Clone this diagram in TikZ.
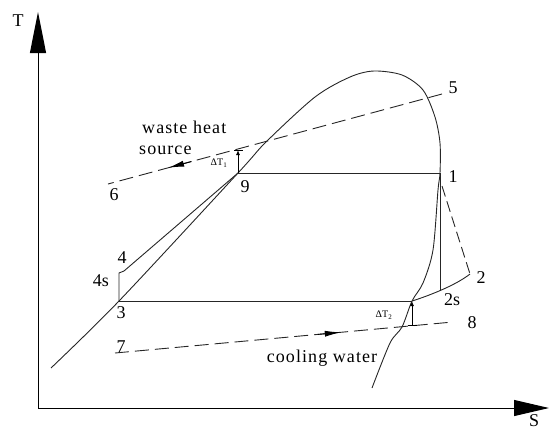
\documentclass[tikz,border=0pt]{standalone}
\usepackage{fontspec}
\setmainfont{Liberation Serif}
\usetikzlibrary{arrows.meta,calc}
\begin{document}
\begin{tikzpicture}[x=1pt,y=-1pt,
  curve/.style={line width=0.9pt, black!85},
  dashline/.style={line width=0.9pt, black!85, dash pattern=on 14pt off 6pt},
  lbl/.style={font=\fontsize{18}{20}\selectfont, inner sep=0pt},
  txt/.style={font=\fontsize{18}{20}\selectfont\addfontfeatures{LetterSpace=6}, inner sep=0pt},
  dlbl/.style={font=\fontsize{10}{11}\selectfont, inner sep=0pt},
  flowtip/.style={-{Latex[length=16pt,width=6pt]}, line width=0.9pt},
  dtarrow/.style={-{Latex[length=5pt,width=4pt]}, line width=1pt},
]
\useasboundingbox (0,0) rectangle (549,432);
% axes
\coordinate (O) at (38,408);
\coordinate (Ty) at (38,12);
\coordinate (Sx) at (549,408);
\draw[line width=1pt, -{Triangle[length=41pt,width=16pt]}] (O) -- (Ty);
\draw[line width=1pt, -{Triangle[length=35pt,width=16pt]}] (O) -- (Sx);
\node[lbl] (Tl) at (18,21) {T};
\node[lbl] (Sl) at (534,421) {S};

% state points
\coordinate (p1) at (440,173);
\coordinate (p9) at (238,173);
\coordinate (p3) at (119,301);
\coordinate (p4s) at (119,273);
\coordinate (p4) at (124,271);
\coordinate (p2s) at (440,290);
\coordinate (p2) at (470,274);
\coordinate (sv) at (412,301);
\coordinate (p5) at (442,94);
\coordinate (p6) at (108,184);
\coordinate (p7) at (115,353);
\coordinate (p8) at (453,322);

% saturation dome
\draw[curve] plot[smooth] coordinates {(51,368) (119,301) (238,173) (266,142) (315,97) (350,77) (374,71) (402,75) (423,90) (435,117) (440,143) (440,173) (438,190) (433,250) (423,283) (412,301) (402,327) (390,343) (372,388)};

% cycle
\draw[curve] (p9) -- (p1);
\draw[curve] (p1) -- (p2s);
\draw[curve] (p3) -- (sv);
\draw[curve] (p3) -- (p4s) -- (p4) -- (p9);
\draw[curve] (sv) .. controls (425,297) and (455,286) .. (p2);
\coordinate (p1d) at (442,186);
\draw[line width=0.9pt, black!85, dash pattern=on 11pt off 5pt] (p1d) -- (p2);

% waste heat source line
\draw[dashline] (p5) -- (p6);
\path (p5) -- (p6) coordinate[pos=0.75] (a6s) coordinate[pos=0.82] (a6e);
\draw[flowtip] (a6s) -- (a6e);

% cooling water line
\draw[dashline] (p7) -- (p8);
\path (p7) -- (p8) coordinate[pos=0.6] (a7s) coordinate[pos=0.668] (a7e);
\draw[flowtip] (a7s) -- (a7e);

% pinch point temperature differences
\coordinate (t1) at (238,150);
\draw[dtarrow] (p9) -- (t1);
\draw[line width=1pt] ($(t1)+(-4,0)$) -- ($(t1)+(5,0)$);
\coordinate (t2b) at (412,325);
\draw[dtarrow] (t2b) -- (sv);
\draw[line width=1pt] ($(t2b)+(-4,0)$) -- ($(t2b)+(5,0)$);

% labels
\node[lbl] (l5) at (453,88) {5};
\node[lbl] (l6) at (114,195) {6};
\node[lbl] (l9) at (245,187) {9};
\node[lbl] (l1) at (453,177) {1};
\node[lbl] (l2) at (481,278) {2};
\node[lbl] (l2s) at (452,300) {2s};
\node[lbl] (l4) at (122,258) {4};
\node[lbl] (l4s) at (101,281) {4s};
\node[lbl] (l3) at (121,313) {3};
\node[lbl] (l7) at (121,347) {7};
\node[lbl] (l8) at (472,323) {8};
\node[dlbl] (dt1) at (219,163) {ΔT\textsubscript{1}};
\node[dlbl] (dt2) at (384,315) {ΔT\textsubscript{2}};
\node[txt, anchor=base west] (w1) at (142,133) {waste heat};
\node[txt, anchor=base west] (w2) at (139,154) {source};
\node[txt, anchor=base] (cw) at (322,362) {cooling water};
\end{tikzpicture}
\end{document}
